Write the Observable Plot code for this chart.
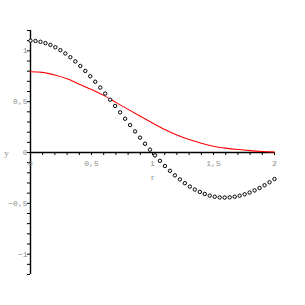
<!DOCTYPE html>
<html>
<head>
<meta charset="utf-8">
<script src="https://cdn.jsdelivr.net/npm/d3@7"></script>
<script src="https://cdn.jsdelivr.net/npm/@observablehq/plot@0.6"></script>
<style>
  html, body { margin: 0; padding: 0; background: #fff; }
</style>
</head>
<body>
<div id="chart"></div>
<script>
// Dotted series: 50 sample points on r in [0, 2]
const pointCount = 50;
const pointR = Array.from({length: pointCount}, (_, i) => 2 * i / (pointCount - 1));
const pointY = [
  1.100, 1.097, 1.089, 1.076, 1.058, 1.035, 1.007, 0.974, 0.937, 0.896,
  0.851, 0.802, 0.750, 0.696, 0.639, 0.580, 0.519, 0.458, 0.395, 0.332,
  0.270, 0.207, 0.146, 0.086, 0.028, -0.028, -0.082, -0.133, -0.180, -0.225,
  -0.265, -0.302, -0.335, -0.364, -0.388, -0.408, -0.424, -0.435, -0.442, -0.443,
  -0.441, -0.435, -0.425, -0.411, -0.394, -0.373, -0.349, -0.322, -0.293, -0.261
];

// Red curve
const lineR = [0, 0.1, 0.2, 0.3, 0.4, 0.5, 0.6, 0.7, 0.8, 0.9, 1.0,
               1.1, 1.2, 1.3, 1.4, 1.5, 1.6, 1.7, 1.8, 1.9, 2.0];
const lineY = [0.794, 0.788, 0.762, 0.725, 0.672, 0.620, 0.562, 0.493, 0.424, 0.356, 0.290,
               0.226, 0.172, 0.127, 0.091, 0.062, 0.043, 0.029, 0.018, 0.010, 0.005];

// Axis ticks and labels
const xMinorTicks = d3.range(0, 21).map(i => i / 10);
const yMinorTicks = d3.range(-12, 13).map(i => i / 10);
const xTickValues = [0, 0.5, 1, 1.5, 2];
const xTickLabels = ["0", "0,5", "1", "1,5", "2"];
const yTickValues = [-1, -0.5, 0, 0.5, 1];
const yTickLabels = ["\u22121", "\u22120,5", "0", "0,5", "1"];
const xAxisTitle = "r";
const yAxisTitle = "y";

const points = pointR.map((r, i) => ({r, y: pointY[i]}));
const curve = lineR.map((r, i) => ({r, y: lineY[i]}));
const xLabels = xTickValues.map((v, i) => ({v, t: xTickLabels[i]}));
const yLabels = yTickValues.map((v, i) => ({v, t: yTickLabels[i]}));

const font = "Liberation Mono, DejaVu Sans Mono, monospace";
const grey = "#8a8a8a";

const chart = Plot.plot({
  width: 305,
  height: 305,
  marginLeft: 30,
  marginRight: 31,
  marginTop: 30,
  marginBottom: 31,
  x: {domain: [0, 2], axis: null},
  y: {domain: [-1.2, 1.2], axis: null},
  style: {background: "#fff", fontFamily: font},
  marks: [
    // axis lines
    Plot.ruleY([0], {x1: 0, x2: 2, stroke: "#000", strokeWidth: 1.4}),
    Plot.ruleX([0], {y1: -1.2, y2: 1.2, stroke: "#000", strokeWidth: 1.4}),
    // ticks
    Plot.ruleX(xMinorTicks, {x: d => d, y1: 0, y2: -0.03, stroke: "#000", strokeWidth: 1}),
    Plot.ruleY(yMinorTicks, {y: d => d, x1: -0.025, x2: 0, stroke: "#000", strokeWidth: 1}),
    // tick labels
    Plot.text(xLabels, {x: "v", y: 0, dy: 11, text: "t", fill: grey, fontSize: 8, fontFamily: font}),
    Plot.text(yLabels, {x: 0, y: "v", dx: -3, text: "t", textAnchor: "end", fill: grey, fontSize: 8, fontFamily: font}),
    // axis titles
    Plot.text([xAxisTitle], {x: 1, y: 0, dy: 25, text: d => d, fill: grey, fontSize: 9, fontFamily: "Liberation Serif, serif"}),
    Plot.text([yAxisTitle], {x: 0, y: 0, dx: -24, dy: 1, text: d => d, fill: grey, fontSize: 9, fontFamily: "Liberation Serif, serif"}),
    // data
    Plot.line(curve, {x: "r", y: "y", stroke: "red", strokeWidth: 1.1, curve: "catmull-rom"}),
    Plot.dot(points, {x: "r", y: "y", r: 1.7, stroke: "#000", fill: "#fff", strokeWidth: 1})
  ]
});
document.getElementById("chart").appendChild(chart);
</script>
</body>
</html>
